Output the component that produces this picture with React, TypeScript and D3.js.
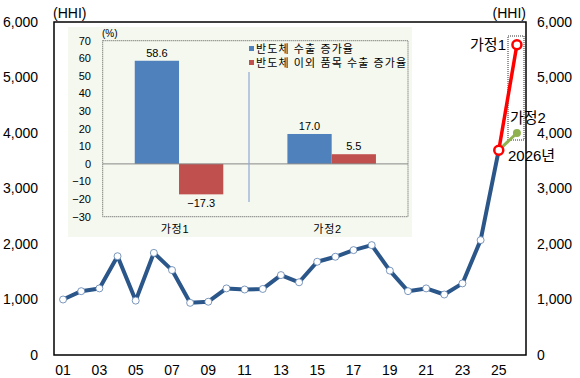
import React from "react";
import * as d3 from "d3";

const hhiYears = ["01","02","03","04","05","06","07","08","09","10","11","12","13","14","15","16","17","18","19","20","21","22","23","24","25"];
const hhiValues = [1000,1150,1200,1780,980,1840,1530,940,960,1200,1180,1190,1440,1310,1680,1770,1890,1980,1520,1150,1200,1090,1290,2070,3690];
const allYears = [...hhiYears, "26"];
const xTickLabels = ["01","03","05","07","09","11","13","15","17","19","21","23","25"];
const yTicks = [0,1000,2000,3000,4000,5000,6000];
const scenarioNames = ["가정1","가정2"];
const scenarioValues = [5590, 4000];
const scenarioYear = "26";

const insetCategories = ["가정1","가정2"];
const insetSeries = ["반도체 수출 증가율","반도체 이외 품목 수출 증가율"];
const semiValues = [58.6, 17.0];
const otherValues = [-17.3, 5.5];
const insetTicks = [-30,-20,-10,0,10,20,30,40,50,60,70];

const FONT = "'Liberation Sans', Arial, 'Noto Sans CJK KR', sans-serif";

export default function App() {
  const W = 580, H = 378;
  const left = 54, right = 526, top = 22, bottom = 355;
  const x = d3.scalePoint<string>().domain(allYears).range([left, right]).padding(0.5);
  const y = d3.scaleLinear().domain([0, 6000]).range([bottom, top]);
  const fmt = d3.format(",");
  const line = d3.line<number>().x((_, i) => x(hhiYears[i])!).y(d => y(d));
  const lastYear = hhiYears[hhiYears.length - 1];
  const lastVal = hhiValues[hhiValues.length - 1];

  // inset
  const iL = 102.7, iR = 408, iT = 40.7, iB = 216.7;
  const ix = d3.scaleBand<string>().domain(insetCategories).range([iL, iR]).paddingInner(0.42).paddingOuter(0.21);
  const isub = d3.scaleBand<number>().domain([0, 1]).range([0, ix.bandwidth()]);
  const iy = d3.scaleLinear().domain([-30, 70]).range([iB, iT]);
  const colors = ["#4f81bd", "#c0504d"];
  const series = [semiValues, otherValues];

  const scenColors = ["#ff0000", "#8fb14f"];

  return (
    <svg width={W} height={H} style={{ position: "absolute", left: 0, top: 0, background: "#fff" }} fontFamily={FONT}>
      {/* frame */}
      <rect x={left} y={top} width={right - left} height={bottom - top} fill="none" stroke="#000" strokeWidth={1.5} />
      {yTicks.map(t => (
        <text key={"l" + t} x={38} y={y(t)} dy="0.35em" textAnchor="end" fontSize={14} fill="#000">{fmt(t)}</text>
      ))}
      {yTicks.map(t => (
        <text key={"r" + t} x={537} y={y(t)} dy="0.35em" textAnchor="start" fontSize={14} fill="#000">{fmt(t)}</text>
      ))}
      <text x={53} y={13} dy="0.35em" fontSize={14}>(HHI)</text>
      <text x={526} y={13} dy="0.35em" textAnchor="end" fontSize={14}>(HHI)</text>
      {xTickLabels.map(t => (
        <text key={"x" + t} x={x(t)!} y={370} dy="0.35em" textAnchor="middle" fontSize={14}>{t}</text>
      ))}

      {/* inset */}
      <rect x={68} y={27} width={344} height={210} fill="#f5f8ef" />
      <rect x={iL} y={iT} width={iR - iL} height={iB - iT} fill="none" stroke="#555" strokeWidth={1} strokeDasharray="1,1" />
      {insetTicks.map(t => (
        <text key={"it" + t} x={91} y={iy(t)} dy="0.35em" textAnchor="end" fontSize={11} fill="#000">{t < 0 ? "\u2212" + Math.abs(t) : t}</text>
      ))}
      <text x={102} y={33} dy="0.35em" fontSize={10}>(%)</text>
      {insetCategories.map((c, ci) =>
        series.map((s, si) => {
          const v = s[ci];
          const bx = ix(c)! + isub(si)!;
          const bw = isub.bandwidth();
          return (
            <g key={c + si}>
              <rect x={bx} y={iy(Math.max(0, v))} width={bw} height={Math.abs(iy(v) - iy(0))} fill={colors[si]} />
              <text x={bx + bw / 2} y={v >= 0 ? iy(v) - 8 : iy(v) + 9} dy="0.35em" textAnchor="middle" fontSize={11}>
                {v < 0 ? "\u2212" + Math.abs(v).toFixed(1) : v.toFixed(1)}
              </text>
            </g>
          );
        })
      )}
      <line x1={iL} x2={iR} y1={iy(0)} y2={iy(0)} stroke="#888" strokeWidth={1} />
      <line x1={249} x2={249} y1={72} y2={202} stroke="#8ea9d4" strokeWidth={1.2} />
      {insetCategories.map(c => (
        <text key={"ic" + c} x={ix(c)! + ix.bandwidth() / 2 - 4} y={229} dy="0.35em" textAnchor="middle" fontSize={11} letterSpacing={0.8}>{c}</text>
      ))}
      {insetSeries.map((s, i) => (
        <g key={s}>
          <rect x={249} y={46 + i * 14} width={5} height={5} fill={colors[i]} />
          <text x={256} y={49 + i * 14} dy="0.35em" fontSize={11} letterSpacing={1.1} fill="#000">{s}</text>
        </g>
      ))}

      {/* dotted box around scenario */}
      <rect x={508} y={36} width={16} height={104} fill="none" stroke="#333" strokeWidth={1} strokeDasharray="1,1" />

      {/* main line */}
      <path d={line(hhiValues)!} fill="none" stroke="#2a5689" strokeWidth={4} strokeLinejoin="round" />
      {hhiValues.slice(0, -1).map((v, i) => (
        <circle key={"m" + i} cx={x(hhiYears[i])!} cy={y(v)} r={3.5} fill="#fff" stroke="#5a7eac" strokeWidth={0.8} />
      ))}

      {[1, 0].map(si => (
        <line key={"sl" + si} x1={x(lastYear)!} y1={y(lastVal)} x2={x(scenarioYear)!} y2={y(scenarioValues[si])}
          stroke={scenColors[si]} strokeWidth={si === 0 ? 3.5 : 3} />
      ))}
      <circle cx={x(scenarioYear)!} cy={y(scenarioValues[1])} r={4} fill={scenColors[1]} />
      <circle cx={x(scenarioYear)!} cy={y(scenarioValues[0])} r={4.5} fill="#fff" stroke={scenColors[0]} strokeWidth={2.5} />
      <circle cx={x(lastYear)!} cy={y(lastVal)} r={4.5} fill="#fff" stroke={scenColors[0]} strokeWidth={2.5} />

      <text x={506} y={y(scenarioValues[0])} dy="0.35em" textAnchor="end" fontSize={15}>{scenarioNames[0]}</text>
      <text x={510} y={118} dy="0.35em" fontSize={15}>{scenarioNames[1]}</text>
      <text x={508} y={156} dy="0.35em" fontSize={15}>2026년</text>
    </svg>
  );
}
